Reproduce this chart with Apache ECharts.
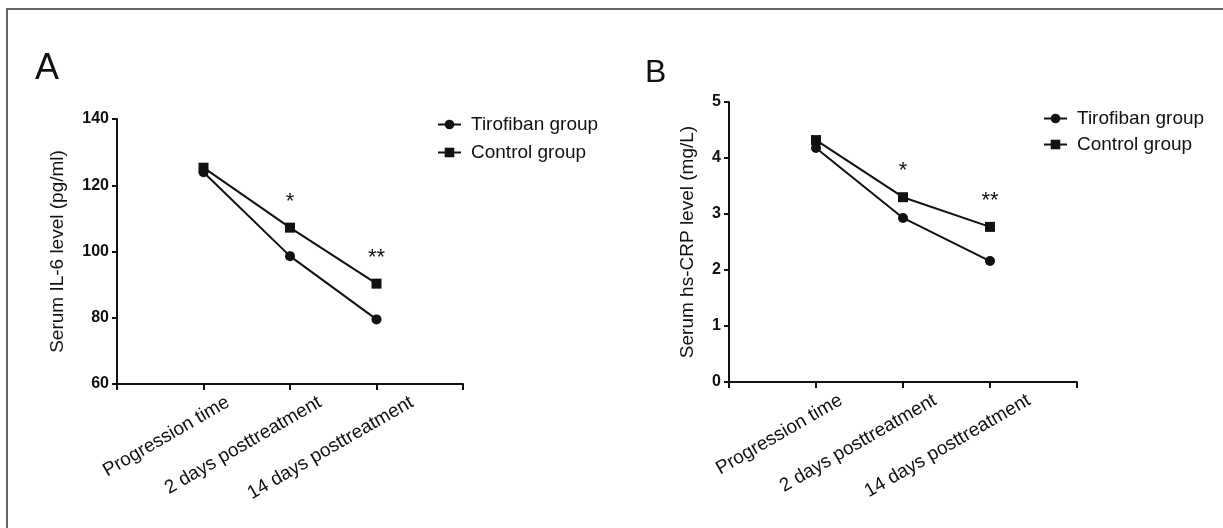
<!DOCTYPE html>
<html>
<head>
<meta charset="utf-8">
<style>
  html, body { margin: 0; padding: 0; background: #fff; }
  #main { width: 1223px; height: 528px; }
</style>
<script src="https://cdn.jsdelivr.net/npm/echarts@6/dist/echarts.min.js"></script>
</head>
<body>
<div id="main"></div>
<script>
// time points (x axis)
const timePoints = ['Progression time', '2 days posttreatment', '14 days posttreatment'];
// significance marks shown above the control group
const sigMarks = ['', '*', '**'];

// panel A - serum IL-6 (pg/ml)
const il6Tirofiban = [123.9, 98.6, 79.5];
const il6Control = [125.3, 107.2, 90.3];
const il6Ticks = [60, 80, 100, 120, 140];

// panel B - serum hs-CRP (mg/L)
const crpTirofiban = [4.18, 2.93, 2.16];
const crpControl = [4.32, 3.30, 2.77];
const crpTicks = [0, 1, 2, 3, 4, 5];

const chart = echarts.init(document.getElementById('main'));

const FONT = 'Liberation Sans, Arial, sans-serif';
const INK = '#111';

// points sit at x = 1,2,3 on a 0..4 value axis
function toPoints(vals) {
  return vals.map((v, i) => [i + 1, v]);
}

function yAxisOf(grid, ticks, name, gap) {
  return {
    type: 'value', gridIndex: grid,
    min: ticks[0], max: ticks[ticks.length - 1],
    interval: ticks[1] - ticks[0],
    name: name, nameLocation: 'middle', nameGap: gap,
    nameTextStyle: { fontFamily: FONT, fontSize: 19, color: INK },
    axisLine: { show: true, lineStyle: { color: INK, width: 2 } },
    axisTick: { show: true, length: 5, lineStyle: { color: INK, width: 2 } },
    axisLabel: { fontFamily: FONT, fontSize: 16, fontWeight: 'bold', color: INK, margin: 8 },
    splitLine: { show: false }
  };
}

function xAxisOf(grid) {
  return {
    type: 'value', gridIndex: grid, min: 0, max: 4, interval: 1,
    axisLine: { show: true, lineStyle: { color: INK, width: 2 } },
    axisTick: { show: true, length: 6, lineStyle: { color: INK, width: 2 } },
    axisLabel: { show: false },
    splitLine: { show: false }
  };
}

// labels live on their own axis so they can sit a bit right of the ticks
function labelAxisOf(grid) {
  return {
    type: 'category', gridIndex: grid, boundaryGap: false,
    data: [''].concat(timePoints, ['']),
    axisLine: { show: false }, axisTick: { show: false },
    axisLabel: { rotate: 30, interval: 0, margin: 17, fontFamily: FONT, fontSize: 19, color: INK },
    splitLine: { show: false }
  };
}

function hiddenY(grid) {
  return { type: 'value', gridIndex: grid, show: false, min: 0, max: 1 };
}

function lineSeries(name, symbol, vals, axisIdx, marks) {
  const s = {
    name: name, type: 'line',
    xAxisIndex: axisIdx, yAxisIndex: axisIdx,
    data: toPoints(vals),
    symbol: symbol, symbolSize: 10,
    lineStyle: { color: INK, width: 2 },
    itemStyle: { color: INK },
    emphasis: { disabled: true },
    silent: true
  };
  if (marks) {
    s.label = {
      show: true, position: 'top', distance: 10,
      fontFamily: FONT, fontSize: 22, color: INK,
      formatter: p => marks[p.dataIndex]
    };
  }
  return s;
}

function legendOf(left, top, gap) {
  return {
    left: left, top: top, orient: 'vertical',
    itemWidth: 23, itemHeight: 12, itemGap: gap,
    textStyle: { fontFamily: FONT, fontSize: 19, color: INK, padding: [0, 0, 0, 5] },
    data: ['Tirofiban group', 'Control group']
  };
}

const option = {
  backgroundColor: '#fff',
  animation: false,
  title: [
    { text: 'A', left: 30, top: 46, textStyle: { fontFamily: FONT, fontSize: 36, fontWeight: 'normal', color: INK } },
    { text: 'B', left: 640, top: 52, textStyle: { fontFamily: FONT, fontSize: 32, fontWeight: 'normal', color: INK } }
  ],
  graphic: [
    { type: 'polyline', shape: { points: [[7, 528], [7, 9], [1223, 9]] }, style: { stroke: '#666', lineWidth: 2, fill: null } }
  ],
  grid: [
    { left: 117, top: 119, width: 346, height: 265 },
    { left: 729, top: 102, width: 348, height: 280 },
    { left: 136, top: 119, width: 368, height: 265 },
    { left: 747, top: 102, width: 376, height: 280 }
  ],
  xAxis: [xAxisOf(0), xAxisOf(1), labelAxisOf(2), labelAxisOf(3)],
  yAxis: [
    yAxisOf(0, il6Ticks, 'Serum IL-6 level (pg/ml)', 50),
    yAxisOf(1, crpTicks, 'Serum hs-CRP level (mg/L)', 32),
    hiddenY(2), hiddenY(3)
  ],
  legend: [legendOf(432, 110, 9), legendOf(1038, 104, 7)],
  series: [
    lineSeries('Tirofiban group', 'circle', il6Tirofiban, 0),
    lineSeries('Control group', 'rect', il6Control, 0, sigMarks),
    lineSeries('Tirofiban group', 'circle', crpTirofiban, 1),
    lineSeries('Control group', 'rect', crpControl, 1, sigMarks)
  ]
};

chart.setOption(option);
</script>
</body>
</html>
